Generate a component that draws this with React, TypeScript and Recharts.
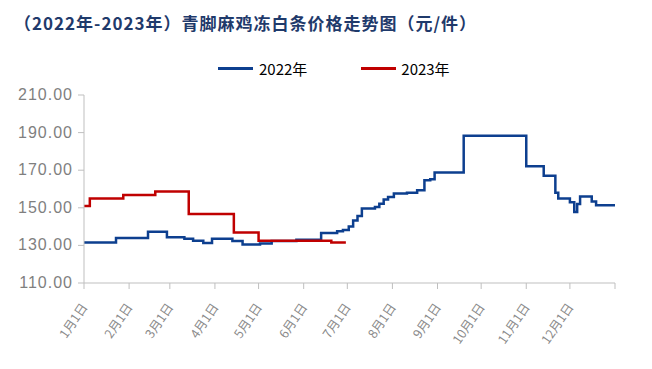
import React from 'react';
import { LineChart, Line, XAxis, YAxis } from 'recharts';

// change points: day of year -> price
const days2022 = [0, 22, 44, 57, 69, 75, 82, 88, 102, 109, 121, 129, 146, 163, 174, 178, 182, 185, 188, 191, 200, 203, 206, 209, 213, 222, 229, 234, 238, 241, 261, 304, 316, 324, 326, 334, 337, 339, 341, 349, 352, 365];
const prices2022 = [131.5, 134, 137.3, 134.3, 133.5, 132.5, 131.3, 133.6, 132.3, 130.5, 131, 132.3, 133, 136.6, 137.5, 138.2, 140, 143.3, 145.6, 149.6, 150.4, 152.2, 154.4, 155.8, 157.6, 158, 159.3, 164.7, 165.2, 168.8, 188.3, 172.1, 167, 158, 155, 153, 147.8, 152, 156, 153.3, 151.3, 151.3];

const days2023 = [0, 4, 27, 49, 72, 103, 120, 170, 180];
const prices2023 = [151, 155, 156.8, 158.7, 146.7, 136.8, 132.5, 131.6, 131.6];

const monthStarts = [0, 31, 59, 90, 120, 151, 181, 212, 243, 273, 304, 334, 365];
const monthLabels = ['1月1日', '2月1日', '3月1日', '4月1日', '5月1日', '6月1日', '7月1日', '8月1日', '9月1日', '10月1日', '11月1日', '12月1日', ''];
const yTicks = [110, 130, 150, 170, 190, 210];

const series2022 = days2022.map((d, i) => ({ day: d, value: prices2022[i] }));
const series2023 = days2023.map((d, i) => ({ day: d, value: prices2023[i] }));

const MonthTick = ({ x, y, payload }: any) => {
  const label = monthLabels[monthStarts.indexOf(payload.value)];
  const tx = x + 4;
  const ty = y + 16;
  return (
    <text
      x={tx}
      y={ty}
      textAnchor="end"
      fill="#8a8a8a"
      fontSize={12.5}
      fontFamily="'Noto Sans CJK SC', sans-serif"
      transform={`rotate(-56, ${tx}, ${ty})`}
    >
      {label}
    </text>
  );
};

const PriceTick = ({ x, y, payload }: any) => (
  <text x={x - 3} y={y} dy={5} textAnchor="end" fill="#7f7f7f" fontSize={16} fontFamily="'Liberation Sans', sans-serif" letterSpacing={1}>
    {payload.value.toFixed(2)}
  </text>
);

export default function App() {
  return (
    <div style={{ position: 'absolute', left: 0, top: 0, width: 652, height: 369, background: '#fff', fontFamily: "'Noto Sans CJK SC', sans-serif" }}>
      <div style={{ position: 'absolute', left: 14, top: 10, fontSize: 17, fontWeight: 700, color: '#1f3a6b', whiteSpace: 'nowrap', letterSpacing: 1 }}>
        （2022年-2023年）青脚麻鸡冻白条价格走势图（元/件）
      </div>
      <div style={{ position: 'absolute', left: 218, top: 58, display: 'flex', alignItems: 'center', fontSize: 15, color: '#000' }}>
        <span style={{ display: 'inline-block', width: 35, height: 3, background: '#0d3f8f', marginRight: 6 }} />
        <span>2022年</span>
        <span style={{ display: 'inline-block', width: 35, height: 3, background: '#c00000', marginLeft: 54, marginRight: 5 }} />
        <span>2023年</span>
      </div>
      <LineChart width={652} height={369} margin={{ top: 95, right: 37, left: 0, bottom: 0 }}>
        <XAxis
          type="number"
          dataKey="day"
          domain={[0, 365]}
          ticks={monthStarts}
          interval={0}
          tick={<MonthTick />}
          stroke="#bfbfbf"
          tickSize={6}
          height={86}
          allowDuplicatedCategory={false}
        />
        <YAxis
          domain={[110, 210]}
          ticks={yTicks}
          interval={0}
          width={84}
          stroke="#bfbfbf"
          tickSize={6}
          tick={<PriceTick />}
        />
        <Line data={series2022} dataKey="value" type="stepAfter" stroke="#0d3f8f" strokeWidth={2.5} dot={false} isAnimationActive={false} />
        <Line data={series2023} dataKey="value" type="stepAfter" stroke="#c00000" strokeWidth={2.5} dot={false} isAnimationActive={false} />
      </LineChart>
    </div>
  );
}
